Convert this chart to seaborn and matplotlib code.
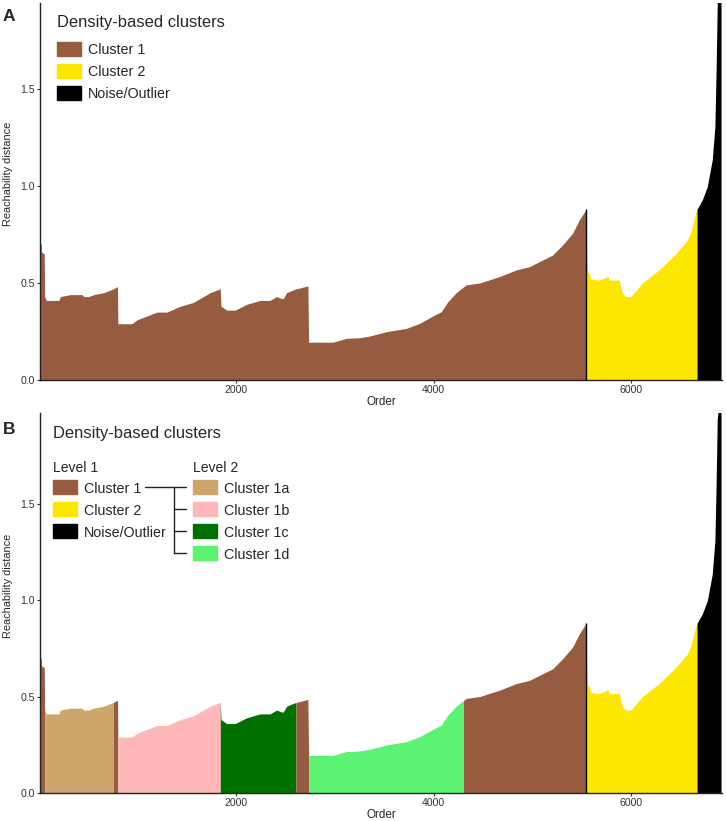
import pandas as pd
import matplotlib.pyplot as plt
import seaborn as sns
from matplotlib.patches import Rectangle
from matplotlib.lines import Line2D

# reachability plot (order, reachability distance)
order = [15, 28, 30, 58, 62, 80, 205, 222, 323, 441, 458, 508, 559, 660, 758, 795, 800, 803,
         946, 997, 1199, 1300, 1434, 1569, 1737, 1838, 1840, 1848, 1906, 1990, 2108, 2242,
         2343, 2411, 2460, 2478, 2512, 2606, 2613, 2727, 2735, 2983, 3118, 3253, 3354, 3522,
         3724, 3859, 3993, 4077, 4145, 4229, 4303, 4330, 4465, 4667, 4835, 4970, 5071, 5205,
         5306, 5407, 5475, 5545, 5548, 5560, 5576, 5593, 5677, 5750, 5761, 5778, 5879, 5912,
         5946, 5997, 6114, 6283, 6451, 6569, 6603, 6653, 6667, 6720, 6771, 6821, 6848, 6861,
         6872, 6885, 6910]
reach = [0.70, 0.70, 0.66, 0.65, 0.43, 0.41, 0.41, 0.43, 0.44, 0.44, 0.43, 0.43, 0.44, 0.45,
         0.47, 0.48, 0.48, 0.29, 0.29, 0.31, 0.35, 0.35, 0.38, 0.40, 0.45, 0.47, 0.47, 0.38,
         0.36, 0.36, 0.39, 0.41, 0.41, 0.43, 0.42, 0.42, 0.45, 0.47, 0.47, 0.485, 0.195, 0.195,
         0.215, 0.218, 0.227, 0.249, 0.266, 0.292, 0.33, 0.352, 0.404, 0.45, 0.48, 0.49, 0.50,
         0.533, 0.567, 0.584, 0.61, 0.644, 0.696, 0.756, 0.825, 0.88, 0.69, 0.56, 0.55, 0.52,
         0.515, 0.53, 0.54, 0.515, 0.515, 0.447, 0.43, 0.43, 0.50, 0.567, 0.65, 0.72, 0.76,
         0.86, 0.88, 0.928, 0.996, 1.134, 1.306, 1.615, 1.94, 2.0, 2.0]

BROWN, YELLOW, BLACK = '#975b40', '#fde600', '#000000'
TAN, PINK, DKGREEN, LTGREEN = '#cfa56e', '#ffb8b8', '#007100', '#5cf372'

level1_names = ['Cluster 1', 'Cluster 2', 'Noise/Outlier']
level1_colors = [BROWN, YELLOW, BLACK]
level1_bounds = [15, 5545, 6667, 6910]

level2_names = ['Cluster 1a', 'Cluster 1b', 'Cluster 1c', 'Cluster 1d']
level2_colors = [TAN, PINK, DKGREEN, LTGREEN]
level2_bounds = [15, 62, 758, 803, 1840, 2606, 2735, 4303, 5545, 6667, 6910]
level2_seg_colors = [BROWN, TAN, BROWN, PINK, DKGREEN, BROWN, LTGREEN, BROWN, YELLOW, BLACK]

df = pd.DataFrame({'Order': order, 'Reach': reach})

sns.set_style('ticks')
plt.rcParams['font.family'] = ['Liberation Sans', 'DejaVu Sans']

W, H = 726, 821
fig = plt.figure(figsize=(W / 100, H / 100), dpi=100)


def px_box(left, top, right, bottom):
    return [left / W, 1 - bottom / H, (right - left) / W, (bottom - top) / H]


def fx(x):
    return x / W


def fy(y):
    return 1 - y / H


def fill_segments(ax, bounds, colors):
    for lo, hi, c in zip(bounds[:-1], bounds[1:], colors):
        part = df[(df['Order'] >= lo) & (df['Order'] <= hi)]
        ax.fill_between(part['Order'], 0, part['Reach'], color=c, lw=0)
    edge = df.loc[df['Order'] == 5545, 'Reach'].iloc[0]
    ax.vlines(5545, 0, edge, color='black', lw=1)


def style_axes(ax, ytop):
    ax.set_xlim(15, 6920)
    ax.set_ylim(0, ytop)
    ax.set_xticks([2000, 4000, 6000])
    ax.set_yticks([0.0, 0.5, 1.0, 1.5])
    ax.set_yticklabels(['0.0', '0.5', '1.0', '1.5'])
    ax.tick_params(labelsize=7.6, length=2, width=0.8, colors='#333333', pad=1.5)
    ax.set_xlabel('Order', fontsize=8.4, labelpad=0.5)
    ax.set_ylabel('Reachability distance', fontsize=7.9)
    ax.yaxis.set_label_coords(-0.040, 0.546)
    for s in ['left', 'bottom']:
        ax.spines[s].set_color('#222222')
        ax.spines[s].set_linewidth(1.0)
    sns.despine(ax=ax)


ax1 = fig.add_axes(px_box(40, 3, 722, 380))
fill_segments(ax1, level1_bounds, level1_colors)
style_axes(ax1, 1.943)

ax2 = fig.add_axes(px_box(40, 413, 722, 793))
fill_segments(ax2, level2_bounds, level2_seg_colors)
style_axes(ax2, 1.97)

ENTRY_FS = 10.3


def key(x, yc, color, label):
    fig.patches.append(Rectangle((fx(x), fy(yc + 7)), 24 / W, 14 / H, color=color,
                                 transform=fig.transFigure))
    fig.text(fx(x + 31), fy(yc + 5.5), label, fontsize=ENTRY_FS, va='baseline')


# panel A legend
fig.text(fx(3), fy(21), 'A', fontsize=12.5, fontweight='bold', va='baseline')
fig.text(fx(57), fy(27), 'Density-based clusters', fontsize=11.9, va='baseline')
for i, (name, c) in enumerate(zip(level1_names, level1_colors)):
    key(57, 49 + 22 * i, c, name)

# panel B legend
fig.text(fx(3), fy(434), 'B', fontsize=12.5, fontweight='bold', va='baseline')
fig.text(fx(53), fy(438), 'Density-based clusters', fontsize=11.9, va='baseline')
fig.text(fx(53), fy(472), 'Level 1', fontsize=10.1, va='baseline')
fig.text(fx(193), fy(472), 'Level 2', fontsize=10.1, va='baseline')
rows = [487, 509, 531, 553]
for i, (name, c) in enumerate(zip(level1_names, level1_colors)):
    key(53, rows[i], c, name)
for i, (name, c) in enumerate(zip(level2_names, level2_colors)):
    key(193, rows[i], c, name)

lk = dict(color='#222222', lw=1.0, transform=fig.transFigure)
fig.lines.append(Line2D([fx(145), fx(174)], [fy(487), fy(487)], **lk))
fig.lines.append(Line2D([fx(174), fx(174)], [fy(487), fy(553)], **lk))
for r in rows:
    fig.lines.append(Line2D([fx(174), fx(186)], [fy(r), fy(r)], **lk))

fig.savefig('out.png', dpi=100)
